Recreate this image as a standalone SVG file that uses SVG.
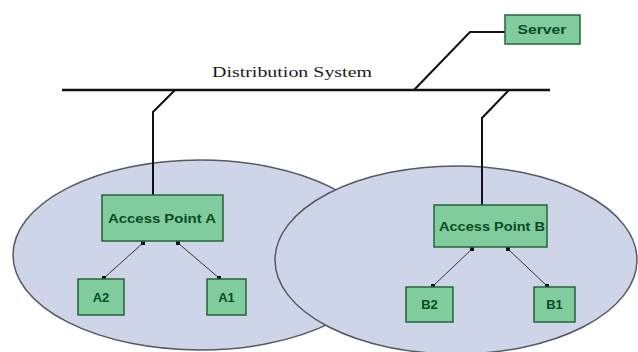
<svg xmlns="http://www.w3.org/2000/svg" width="638" height="352" viewBox="0 0 638 352">
<style>
.cell{fill:#cfd5e9;stroke:#555a60;stroke-width:1.5}
.box{fill:#80cc9c;stroke:#24643c;stroke-width:1.5}
.lbl{font-family:"Liberation Sans",Arial,sans-serif;font-weight:bold;font-size:12px;fill:#0d4a26;text-anchor:middle}
.sm{font-size:13px}
.wire{fill:none;stroke:#111;stroke-width:2}
.link{fill:none;stroke:#333;stroke-width:1;marker-start:url(#dot);marker-end:url(#dot)}
</style>
<defs>
<marker id="dot" viewBox="0 0 6 6" refX="3" refY="3" markerWidth="4" markerHeight="4" markerUnits="userSpaceOnUse"><rect x="0" y="0" width="6" height="6" fill="#111"/></marker>
</defs>
<rect width="638" height="352" fill="#fff"/>
<g id="cellA"><ellipse class="cell" cx="200" cy="255" rx="187" ry="95"/></g>
<g id="cellB"><ellipse class="cell" cx="456" cy="260" rx="181" ry="94"/></g>
<g id="connectors">
<line x1="62" y1="90" x2="550" y2="90" stroke="#111" stroke-width="2.5"/>
<polyline class="wire" points="175,90 153,112 153,195"/>
<polyline class="wire" points="509,90 482,118 482,205"/>
<polyline class="wire" points="414,90 470,32 505,32"/>
<line class="link" x1="143" y1="243" x2="104" y2="278"/>
<line class="link" x1="178" y1="243" x2="219" y2="278"/>
<line class="link" x1="472" y1="249" x2="433" y2="286"/>
<line class="link" x1="508" y1="249" x2="547" y2="286"/>
</g>
<g id="label"><text x="292" y="77" font-family="Liberation Serif,'Times New Roman',serif" font-size="14" text-anchor="middle" textLength="160" lengthAdjust="spacingAndGlyphs" fill="#1a1a1a">Distribution System</text></g>
<g id="server"><rect class="box" x="505" y="15" width="75" height="29"/><text class="lbl sm" x="542" y="34" textLength="49" lengthAdjust="spacingAndGlyphs">Server</text></g>
<g id="apA"><rect class="box" x="102" y="195" width="121" height="46"/><text class="lbl sm" x="162" y="223" textLength="108" lengthAdjust="spacingAndGlyphs">Access Point A</text></g>
<g id="apB"><rect class="box" x="434" y="205" width="113" height="42"/><text class="lbl sm" x="492" y="231" textLength="106" lengthAdjust="spacingAndGlyphs">Access Point B</text></g>
<g id="A2"><rect class="box" x="78" y="279" width="46" height="36"/><text class="lbl sm" x="101" y="302">A2</text></g>
<g id="A1"><rect class="box" x="207" y="279" width="39" height="36"/><text class="lbl sm" x="226.5" y="302">A1</text></g>
<g id="B2"><rect class="box" x="406" y="287" width="47" height="35"/><text class="lbl sm" x="429.5" y="309">B2</text></g>
<g id="B1"><rect class="box" x="534" y="287" width="41" height="35"/><text class="lbl sm" x="554.5" y="309">B1</text></g>
</svg>
